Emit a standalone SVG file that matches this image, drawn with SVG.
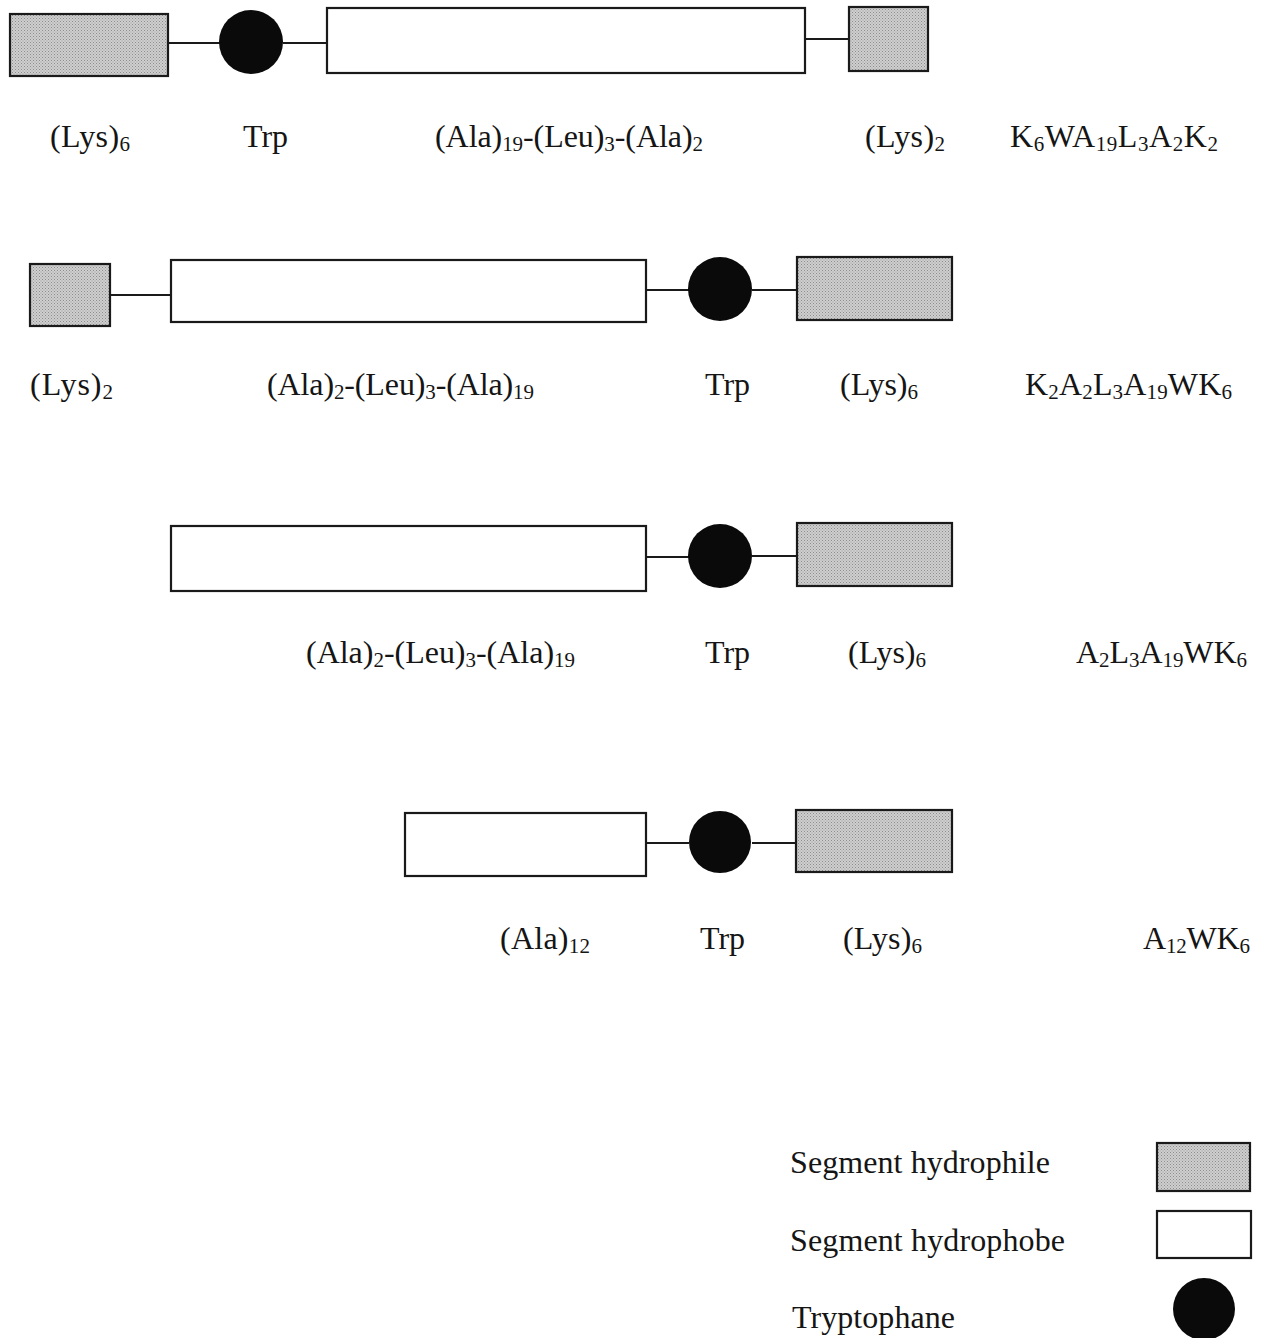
<svg xmlns="http://www.w3.org/2000/svg" width="1269" height="1338" viewBox="0 0 1269 1338">
  <defs>
    <!-- stippled grey used for the hydrophilic (Lys) blocks -->
    <pattern id="stipple" width="3" height="3" patternUnits="userSpaceOnUse">
      <rect width="3" height="3" fill="#cfcfcf"/>
      <rect x="0" y="0" width="1" height="1" fill="#8c8c8c"/>
      <rect x="1.5" y="1.5" width="1" height="1" fill="#9a9a9a"/>
    </pattern>
    <style>
      .philic { fill: url(#stipple); stroke: #1a1a1a; stroke-width: 2.2; }
      .phobic { fill: #ffffff; stroke: #1a1a1a; stroke-width: 2.2; }
      .trp { fill: #0a0a0a; }
      .link { stroke: #1a1a1a; stroke-width: 2; fill: none; }
      text { font-family: "Liberation Serif", "Times New Roman", serif; font-size: 32px; fill: #151515; }
      .sub { font-size: 21px; }
    </style>
  </defs>
  <rect width="1269" height="1338" fill="#ffffff"/>

  <!-- connectors between segments -->
  <g id="connectors">
    <line class="link" x1="168" y1="43" x2="220" y2="43"/>
    <line class="link" x1="283" y1="43" x2="327" y2="43"/>
    <line class="link" x1="805" y1="39" x2="849" y2="39"/>

    <line class="link" x1="110" y1="295" x2="171" y2="295"/>
    <line class="link" x1="646" y1="290" x2="689" y2="290"/>
    <line class="link" x1="752" y1="290" x2="797" y2="290"/>

    <line class="link" x1="646" y1="557" x2="689" y2="557"/>
    <line class="link" x1="752" y1="556" x2="797" y2="556"/>

    <line class="link" x1="646" y1="843" x2="689" y2="843"/>
    <line class="link" x1="752" y1="843" x2="796" y2="843"/>
  </g>

  <!-- peptide 1: K6WA19L3A2K2 -->
  <g id="p1-lys6"><rect class="philic" x="10" y="14" width="158" height="62"/></g>
  <g id="p1-trp"><circle class="trp" cx="251" cy="42" r="32"/></g>
  <g id="p1-core"><rect class="phobic" x="327" y="8" width="478" height="65"/></g>
  <g id="p1-lys2"><rect class="philic" x="849" y="7" width="79" height="64"/></g>
  <g id="p1-labels">
    <text x="50" y="147" textLength="80">(Lys)<tspan class="sub" dy="4">6</tspan></text>
    <text x="243" y="147" textLength="45">Trp</text>
    <text x="435" y="147" textLength="268">(Ala)<tspan class="sub" dy="4">19</tspan><tspan dy="-4">-(Leu)</tspan><tspan class="sub" dy="4">3</tspan><tspan dy="-4">-(Ala)</tspan><tspan class="sub" dy="4">2</tspan></text>
    <text x="865" y="147" textLength="80">(Lys)<tspan class="sub" dy="4">2</tspan></text>
    <text x="1010" y="147" textLength="208">K<tspan class="sub" dy="4">6</tspan><tspan dy="-4">WA</tspan><tspan class="sub" dy="4">19</tspan><tspan dy="-4">L</tspan><tspan class="sub" dy="4">3</tspan><tspan dy="-4">A</tspan><tspan class="sub" dy="4">2</tspan><tspan dy="-4">K</tspan><tspan class="sub" dy="4">2</tspan></text>
  </g>

  <!-- peptide 2: K2A2L3A19WK6 -->
  <g id="p2-lys2"><rect class="philic" x="30" y="264" width="80" height="62"/></g>
  <g id="p2-core"><rect class="phobic" x="171" y="260" width="475" height="62"/></g>
  <g id="p2-trp"><circle class="trp" cx="720" cy="289" r="32"/></g>
  <g id="p2-lys6"><rect class="philic" x="797" y="257" width="155" height="63"/></g>
  <g id="p2-labels">
    <text x="30" y="395" textLength="83">(Lys)<tspan class="sub" dy="4">2</tspan></text>
    <text x="267" y="395" textLength="267">(Ala)<tspan class="sub" dy="4">2</tspan><tspan dy="-4">-(Leu)</tspan><tspan class="sub" dy="4">3</tspan><tspan dy="-4">-(Ala)</tspan><tspan class="sub" dy="4">19</tspan></text>
    <text x="705" y="395" textLength="45">Trp</text>
    <text x="840" y="395" textLength="78">(Lys)<tspan class="sub" dy="4">6</tspan></text>
    <text x="1025" y="395" textLength="207">K<tspan class="sub" dy="4">2</tspan><tspan dy="-4">A</tspan><tspan class="sub" dy="4">2</tspan><tspan dy="-4">L</tspan><tspan class="sub" dy="4">3</tspan><tspan dy="-4">A</tspan><tspan class="sub" dy="4">19</tspan><tspan dy="-4">WK</tspan><tspan class="sub" dy="4">6</tspan></text>
  </g>

  <!-- peptide 3: A2L3A19WK6 -->
  <g id="p3-core"><rect class="phobic" x="171" y="526" width="475" height="65"/></g>
  <g id="p3-trp"><circle class="trp" cx="720" cy="556" r="32"/></g>
  <g id="p3-lys6"><rect class="philic" x="797" y="523" width="155" height="63"/></g>
  <g id="p3-labels">
    <text x="306" y="663" textLength="269">(Ala)<tspan class="sub" dy="4">2</tspan><tspan dy="-4">-(Leu)</tspan><tspan class="sub" dy="4">3</tspan><tspan dy="-4">-(Ala)</tspan><tspan class="sub" dy="4">19</tspan></text>
    <text x="705" y="663" textLength="45">Trp</text>
    <text x="848" y="663" textLength="78">(Lys)<tspan class="sub" dy="4">6</tspan></text>
    <text x="1076" y="663" textLength="171">A<tspan class="sub" dy="4">2</tspan><tspan dy="-4">L</tspan><tspan class="sub" dy="4">3</tspan><tspan dy="-4">A</tspan><tspan class="sub" dy="4">19</tspan><tspan dy="-4">WK</tspan><tspan class="sub" dy="4">6</tspan></text>
  </g>

  <!-- peptide 4: A12WK6 -->
  <g id="p4-core"><rect class="phobic" x="405" y="813" width="241" height="63"/></g>
  <g id="p4-trp"><circle class="trp" cx="720" cy="842" r="31"/></g>
  <g id="p4-lys6"><rect class="philic" x="796" y="810" width="156" height="62"/></g>
  <g id="p4-labels">
    <text x="500" y="949" textLength="90">(Ala)<tspan class="sub" dy="4">12</tspan></text>
    <text x="700" y="949" textLength="45">Trp</text>
    <text x="843" y="949" textLength="79">(Lys)<tspan class="sub" dy="4">6</tspan></text>
    <text x="1143" y="949" textLength="107">A<tspan class="sub" dy="4">12</tspan><tspan dy="-4">WK</tspan><tspan class="sub" dy="4">6</tspan></text>
  </g>

  <!-- key -->
  <g id="legend-philic">
    <text x="790" y="1173" textLength="260">Segment hydrophile</text>
    <rect class="philic" x="1157" y="1143" width="93" height="48"/>
  </g>
  <g id="legend-phobic">
    <text x="790" y="1251" textLength="275">Segment hydrophobe</text>
    <rect class="phobic" x="1157" y="1211" width="94" height="47"/>
  </g>
  <g id="legend-trp">
    <text x="792" y="1328" textLength="163">Tryptophane</text>
    <circle class="trp" cx="1204" cy="1309" r="31"/>
  </g>
</svg>
